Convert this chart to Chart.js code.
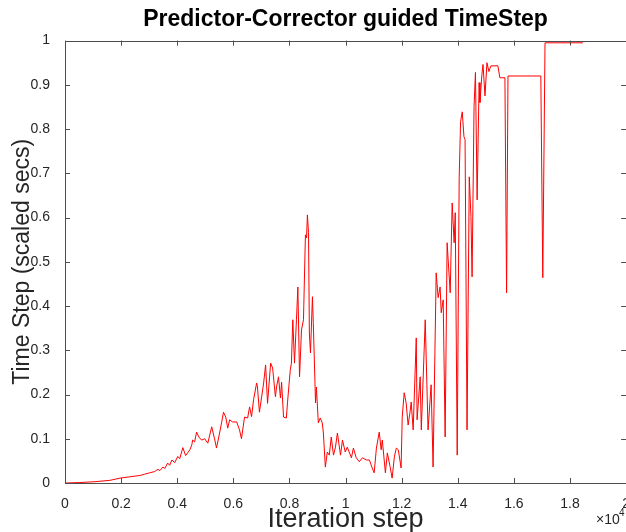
<!DOCTYPE html>
<html>
<head>
<meta charset="utf-8">
<script src="https://cdn.jsdelivr.net/npm/chart.js@4"></script>
<style>
    html, body { margin: 0; padding: 0; background: #fff; overflow: hidden; }
    canvas { display: block; }
</style>
</head>
<body>
<canvas id="chart-timestep" width="635" height="532"></canvas>
<script>
// iteration step, in units of 10^4
const iterSteps = [
    0.000, 0.053, 0.107, 0.160, 0.196, 0.231, 0.267, 0.284, 0.302, 0.320,
    0.331, 0.338, 0.349, 0.356, 0.366, 0.373, 0.381, 0.391, 0.402, 0.409,
    0.420, 0.430, 0.437, 0.445, 0.452, 0.455, 0.462, 0.469, 0.477, 0.487,
    0.498, 0.509, 0.523, 0.533, 0.540, 0.551, 0.558, 0.565, 0.573, 0.580,
    0.587, 0.597, 0.612, 0.622, 0.629, 0.640, 0.651, 0.658, 0.665, 0.672,
    0.683, 0.686, 0.693, 0.701, 0.708, 0.715, 0.722, 0.733, 0.740, 0.750,
    0.754, 0.761, 0.768, 0.772, 0.779, 0.789, 0.793, 0.803, 0.807, 0.812,
    0.818, 0.825, 0.830, 0.836, 0.843, 0.850, 0.857, 0.861, 0.864, 0.868,
    0.871, 0.875, 0.882, 0.885, 0.893, 0.896, 0.903, 0.910, 0.917, 0.921,
    0.928, 0.935, 0.942, 0.949, 0.957, 0.964, 0.971, 0.982, 0.989, 0.999,
    1.006, 1.021, 1.028, 1.038, 1.049, 1.060, 1.074, 1.085, 1.095, 1.102,
    1.110, 1.120, 1.127, 1.131, 1.142, 1.149, 1.159, 1.166, 1.174, 1.181,
    1.188, 1.198, 1.202, 1.209, 1.216, 1.223, 1.230, 1.234, 1.241, 1.252,
    1.255, 1.266, 1.270, 1.284, 1.294, 1.305, 1.312, 1.323, 1.330, 1.337,
    1.341, 1.348, 1.355, 1.362, 1.373, 1.380, 1.387, 1.391, 1.398, 1.405,
    1.410, 1.416, 1.422, 1.426, 1.433, 1.441, 1.447, 1.451, 1.458, 1.463,
    1.469, 1.476, 1.479, 1.486, 1.490, 1.497, 1.504, 1.511, 1.518, 1.543,
    1.550, 1.568, 1.574, 1.579, 1.696, 1.703, 1.711, 1.846
];

// time step (scaled secs)
const timeSteps = [
    0.000, 0.001, 0.003, 0.006, 0.011, 0.014, 0.017, 0.020, 0.023, 0.026,
    0.031, 0.028, 0.036, 0.033, 0.045, 0.040, 0.052, 0.046, 0.060, 0.055,
    0.080, 0.062, 0.068, 0.075, 0.086, 0.097, 0.093, 0.115, 0.104, 0.097,
    0.100, 0.090, 0.127, 0.100, 0.079, 0.113, 0.136, 0.160, 0.149, 0.124,
    0.143, 0.138, 0.138, 0.120, 0.100, 0.149, 0.147, 0.172, 0.150, 0.188,
    0.226, 0.217, 0.160, 0.195, 0.226, 0.267, 0.180, 0.271, 0.260, 0.195,
    0.217, 0.240, 0.192, 0.228, 0.149, 0.147, 0.181, 0.256, 0.271, 0.369,
    0.271, 0.369, 0.443, 0.240, 0.346, 0.369, 0.561, 0.554, 0.606, 0.566,
    0.339, 0.294, 0.421, 0.362, 0.181, 0.217, 0.136, 0.147, 0.136, 0.113,
    0.036, 0.070, 0.063, 0.104, 0.063, 0.081, 0.113, 0.063, 0.097, 0.070,
    0.081, 0.057, 0.079, 0.057, 0.048, 0.057, 0.052, 0.052, 0.034, 0.023,
    0.079, 0.115, 0.075, 0.097, 0.023, 0.068, 0.036, 0.011, 0.059, 0.079,
    0.075, 0.034, 0.149, 0.204, 0.181, 0.131, 0.161, 0.183, 0.120, 0.328,
    0.143, 0.240, 0.120, 0.369, 0.120, 0.222, 0.036, 0.475, 0.419, 0.443,
    0.385, 0.414, 0.104, 0.543, 0.430, 0.633, 0.543, 0.611, 0.063, 0.690,
    0.817, 0.839, 0.783, 0.776, 0.120, 0.692, 0.602, 0.466, 0.851, 0.928,
    0.640, 0.905, 0.860, 0.923, 0.946, 0.875, 0.950, 0.930, 0.943, 0.943,
    0.916, 0.916, 0.430, 0.920, 0.920, 0.464, 0.995, 0.995
];

const xTicks = [0, 0.2, 0.4, 0.6, 0.8, 1, 1.2, 1.4, 1.6, 1.8, 2];
const yTicks = [0, 0.1, 0.2, 0.3, 0.4, 0.5, 0.6, 0.7, 0.8, 0.9, 1];

const axisColor = '#4d4d4d';
const textColor = '#262626';
const fontFamily = '"Liberation Sans", Arial, Helvetica, sans-serif';

// box round the plot with ticks pointing inward, plus the x10^4 note
const boxPlugin = {
    id: 'matlabBox',
    afterDraw(chart) {
        const c = chart.ctx;
        const a = chart.chartArea;
        const xs = chart.scales.x;
        const ys = chart.scales.y;
        const tl = 5;
        c.save();
        c.strokeStyle = axisColor;
        c.lineWidth = 1;
        c.beginPath();
        c.rect(Math.round(a.left) + 0.5, Math.round(a.top) + 0.5,
               Math.round(a.right - a.left), Math.round(a.bottom - a.top));
        xTicks.forEach(v => {
            const px = Math.round(xs.getPixelForValue(v)) + 0.5;
            c.moveTo(px, a.bottom);
            c.lineTo(px, a.bottom - tl);
            c.moveTo(px, a.top);
            c.lineTo(px, a.top + tl);
        });
        yTicks.forEach(v => {
            const py = Math.round(ys.getPixelForValue(v)) + 0.5;
            c.moveTo(a.left, py);
            c.lineTo(a.left + tl, py);
            c.moveTo(a.right, py);
            c.lineTo(a.right - tl, py);
        });
        c.stroke();

        c.fillStyle = textColor;
        c.textBaseline = 'alphabetic';
        c.textAlign = 'left';
        c.font = '14px ' + fontFamily;
        c.fillText('\u00d710', 596, 524);
        c.font = '10px ' + fontFamily;
        c.fillText('4', 619, 516);
        c.restore();
    }
};

window.addEventListener('load', onLoad);

function onLoad() {
    const ctx = document.getElementById('chart-timestep').getContext('2d');
    const points = iterSteps.map((x, i) => ({ x: x, y: timeSteps[i] }));

    const chartTimestep = new Chart(ctx, {
        type: 'line',
        data: {
            datasets: [{
                label: 'Time Step',
                data: points,
                borderColor: 'rgb(255, 0, 0)',
                borderWidth: 1,
                pointRadius: 0,
                tension: 0,
                fill: false
            }]
        },
        options: {
            responsive: false,
            animation: false,
            layout: {
                padding: { left: 0, right: 5, top: 0, bottom: 0 }
            },
            plugins: {
                legend: { display: false },
                tooltip: { enabled: false },
                title: {
                    display: true,
                    fullSize: false,
                    text: 'Predictor-Corrector guided TimeStep',
                    color: '#000',
                    font: { family: fontFamily, size: 23, weight: 'bold' },
                    padding: { top: 6, bottom: 7 }
                }
            },
            scales: {
                x: {
                    type: 'linear',
                    min: 0,
                    max: 2,
                    grid: { display: false },
                    border: { display: false },
                    afterBuildTicks: s => { s.ticks = xTicks.map(v => ({ value: v })); },
                    afterFit: s => { s.height = 49; },
                    ticks: {
                        color: textColor,
                        padding: 5,
                        maxRotation: 0,
                        autoSkip: false,
                        font: { family: fontFamily, size: 14 },
                        callback: v => String(+v.toFixed(1))
                    },
                    title: {
                        display: true,
                        text: 'Iteration step',
                        color: textColor,
                        font: { family: fontFamily, size: 27 },
                        padding: { top: 0, bottom: -4 }
                    }
                },
                y: {
                    type: 'linear',
                    min: 0,
                    max: 1,
                    grid: { display: false },
                    border: { display: false },
                    afterBuildTicks: s => { s.ticks = yTicks.map(v => ({ value: v })); },
                    afterFit: s => { s.width = 65; },
                    ticks: {
                        color: textColor,
                        padding: 7,
                        autoSkip: false,
                        font: { family: fontFamily, size: 14 },
                        callback: v => String(+v.toFixed(1))
                    },
                    title: {
                        display: true,
                        text: 'Time Step (scaled secs)',
                        color: textColor,
                        font: { family: fontFamily, size: 23 },
                        padding: { top: 9, bottom: 0 }
                    }
                }
            }
        },
        plugins: [boxPlugin]
    });
}
</script>
</body>
</html>
